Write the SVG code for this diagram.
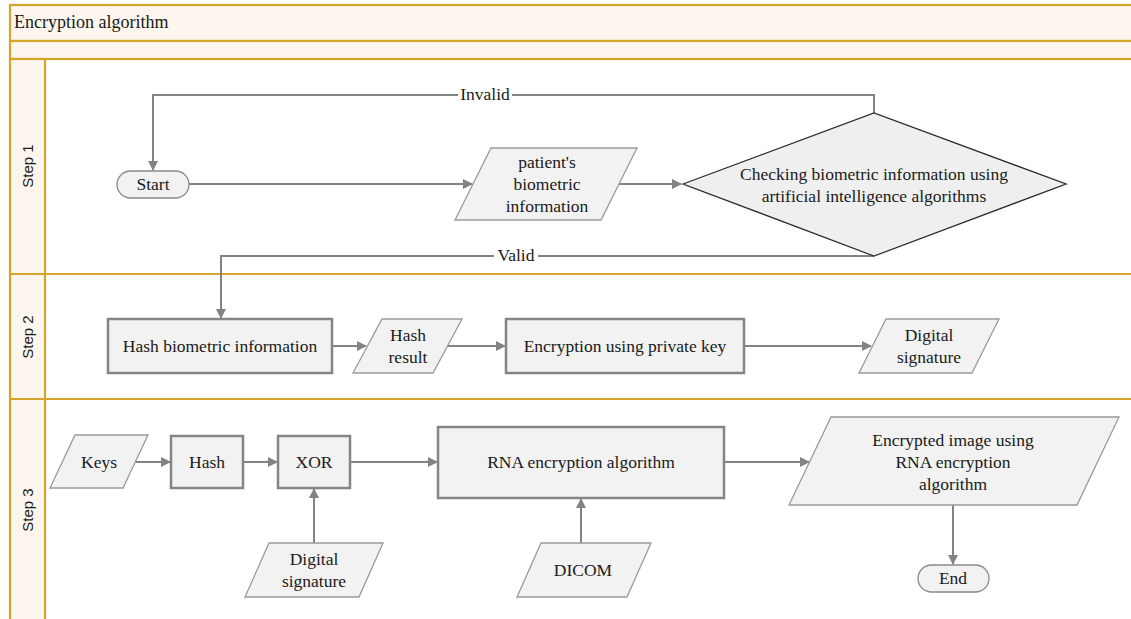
<svg xmlns="http://www.w3.org/2000/svg" width="1131" height="619" viewBox="0 0 1131 619">
<defs>
<style>
.lane{fill:none;stroke:#d4a52a;stroke-width:2.2}
.band{fill:#fdf6ef;stroke:#d4a52a;stroke-width:2.2}
.box{fill:#f2f2f2;stroke:#858585;stroke-width:2.5}
.io{fill:#f2f2f2;stroke:#9a9a9a;stroke-width:1.3}
.term{fill:#f2f2f2;stroke:#8a8a8a;stroke-width:1.3}
.dia{fill:#efefef;stroke:#2a2a2a;stroke-width:1.3}
.t{font-family:"Liberation Serif","Times New Roman",serif;font-size:17.5px;fill:#1a1a1a;text-anchor:middle}
.title{font-family:"Liberation Serif","Times New Roman",serif;font-size:18px;fill:#1a1a1a}
.step{font-family:"Liberation Sans",Arial,sans-serif;font-size:15px;fill:#1a1a1a;text-anchor:middle}
.c{fill:none;stroke:#838383;stroke-width:2}
.lbl{font-family:"Liberation Serif","Times New Roman",serif;font-size:17.5px;fill:#1a1a1a;text-anchor:middle}
</style>
<marker id="arr" viewBox="0 0 10 10" refX="9" refY="5" markerWidth="5.5" markerHeight="5" orient="auto-start-reverse" markerUnits="strokeWidth">
<path d="M0,0 L10,5 L0,10 z" fill="#838383"/>
</marker>
</defs>
<rect x="0" y="0" width="1131" height="619" fill="#ffffff"/>
<g id="frame">
<rect class="band" x="10" y="5" width="1130" height="36"/>
<rect class="band" x="10" y="41" width="1130" height="18"/>
<rect class="band" x="10" y="59" width="35" height="570"/>
<line class="lane" x1="10" y1="59" x2="1140" y2="59"/>
<line class="lane" x1="10" y1="274" x2="1140" y2="274"/>
<line class="lane" x1="10" y1="399" x2="1140" y2="399"/>
<text class="title" x="14" y="28">Encryption algorithm</text>
<text class="step" transform="translate(33,166) rotate(-90)">Step 1</text>
<text class="step" transform="translate(33,337) rotate(-90)">Step 2</text>
<text class="step" transform="translate(33,510) rotate(-90)">Step 3</text>
</g>
<g id="connectors">
<polyline class="c" points="874,113 874,95 153,95 153,170" marker-end="url(#arr)"/>
<rect x="458" y="86" width="54" height="18" fill="#ffffff"/>
<text class="lbl" x="485" y="100">Invalid</text>
<line class="c" x1="189" y1="184" x2="472" y2="184" marker-end="url(#arr)"/>
<line class="c" x1="619" y1="184" x2="681" y2="184" marker-end="url(#arr)"/>
<polyline class="c" points="874,256 221,256 221,318" marker-end="url(#arr)"/>
<rect x="494" y="247" width="44" height="18" fill="#ffffff"/>
<text class="lbl" x="516" y="261">Valid</text>
<line class="c" x1="332" y1="346" x2="366" y2="346" marker-end="url(#arr)"/>
<line class="c" x1="447" y1="346" x2="505" y2="346" marker-end="url(#arr)"/>
<line class="c" x1="744" y1="346" x2="871" y2="346" marker-end="url(#arr)"/>
<line class="c" x1="136" y1="462" x2="170" y2="462" marker-end="url(#arr)"/>
<line class="c" x1="243" y1="462" x2="277" y2="462" marker-end="url(#arr)"/>
<line class="c" x1="350" y1="462" x2="437" y2="462" marker-end="url(#arr)"/>
<line class="c" x1="314" y1="543" x2="314" y2="489" marker-end="url(#arr)"/>
<line class="c" x1="581" y1="543" x2="581" y2="499" marker-end="url(#arr)"/>
<line class="c" x1="724" y1="462" x2="809" y2="462" marker-end="url(#arr)"/>
<line class="c" x1="953" y1="505" x2="953" y2="564" marker-end="url(#arr)"/>
</g>
<g id="start">
<rect class="term" x="117" y="171" width="72" height="27" rx="13.5"/>
<text class="t" x="153" y="190">Start</text>
</g>
<g id="patient-info">
<polygon class="io" points="491,148 637,148 601,220 455,220"/>
<text class="t" x="547" y="168">patient's</text>
<text class="t" x="547" y="190">biometric</text>
<text class="t" x="547" y="212">information</text>
</g>
<g id="check">
<polygon class="dia" points="683,184 874,113 1066,184 874,256"/>
<text class="t" x="874" y="180">Checking biometric information using</text>
<text class="t" x="874" y="202">artificial intelligence algorithms</text>
</g>
<g id="hash-bio">
<rect class="box" x="108" y="319" width="224" height="54"/>
<text class="t" x="220" y="352">Hash biometric information</text>
</g>
<g id="hash-result">
<polygon class="io" points="382,319 462,319 433,373 353,373"/>
<text class="t" x="408" y="341">Hash</text>
<text class="t" x="408" y="363">result</text>
</g>
<g id="encrypt-key">
<rect class="box" x="506" y="319" width="238" height="54"/>
<text class="t" x="625" y="352">Encryption using private key</text>
</g>
<g id="digital-sig-1">
<polygon class="io" points="886,319 999,319 972,373 859,373"/>
<text class="t" x="929" y="341">Digital</text>
<text class="t" x="929" y="363">signature</text>
</g>
<g id="keys">
<polygon class="io" points="75,435 148,435 123,488 50,488"/>
<text class="t" x="99" y="468">Keys</text>
</g>
<g id="hash">
<rect class="box" x="171" y="436" width="72" height="52"/>
<text class="t" x="207" y="468">Hash</text>
</g>
<g id="xor">
<rect class="box" x="278" y="436" width="72" height="52"/>
<text class="t" x="314" y="468">XOR</text>
</g>
<g id="rna">
<rect class="box" x="438" y="427" width="286" height="71"/>
<text class="t" x="581" y="468">RNA encryption algorithm</text>
</g>
<g id="encrypted-image">
<polygon class="io" points="831,417 1119,417 1077,505 789,505"/>
<text class="t" x="953" y="446">Encrypted image using</text>
<text class="t" x="953" y="468">RNA encryption</text>
<text class="t" x="953" y="490">algorithm</text>
</g>
<g id="end">
<rect class="term" x="918" y="565" width="71" height="27" rx="13.5"/>
<text class="t" x="953" y="584">End</text>
</g>
<g id="digital-sig-2">
<polygon class="io" points="269,543 383,543 359,597 245,597"/>
<text class="t" x="314" y="565">Digital</text>
<text class="t" x="314" y="587">signature</text>
</g>
<g id="dicom">
<polygon class="io" points="541,543 651,543 627,597 517,597"/>
<text class="t" x="583" y="576">DICOM</text>
</g>
</svg>
